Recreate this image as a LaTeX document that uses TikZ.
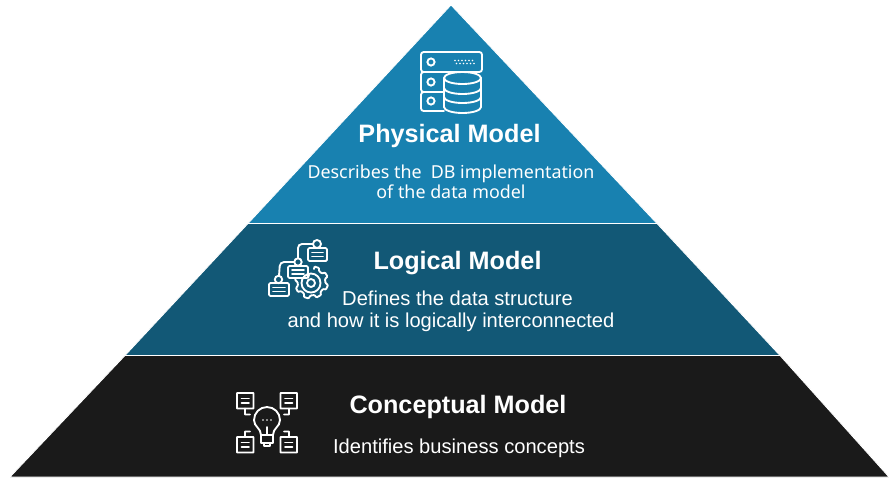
\documentclass[tikz,border=0pt]{standalone}
\usepackage{fontspec}
\setmainfont{Liberation Sans}
\newfontfamily\descfont{Noto Sans}
\definecolor{physc}{HTML}{1881B0}
\definecolor{logc}{HTML}{125876}
\definecolor{conc}{HTML}{1A1A1A}
\tikzset{
 layer/.style={draw=white,line width=0.6pt},
 titletext/.style={text=white,font=\fontsize{18.9}{22}\selectfont\bfseries,inner sep=0pt},
 bodytext/.style={text=white,font=\fontsize{15.1}{16.5}\selectfont,align=center,inner sep=0pt},
 icon/.style={draw=white,line width=1.4pt,rounded corners=1pt,line cap=round},
}
\begin{document}
\begin{tikzpicture}[x=0.75pt,y=-0.75pt]
\useasboundingbox (0,0) rectangle (889,480);
\fill[white] (0,0) rectangle (889,480);
% layers
\path[layer,fill=physc] (451,5) -- (657,223.5) -- (248,223.5) -- cycle;
\path[layer,fill=logc] (248,223.5) -- (657,223.5) -- (780,355.5) -- (125,355.5) -- cycle;
\path[layer,fill=conc] (125,355.5) -- (780,355.5) -- (889,477) -- (10,477) -- cycle;
% texts
\node[titletext] (t1) at (449.5,136) {Physical Model};
\node[bodytext,font=\descfont\fontsize{13.4}{15}\selectfont] (d1) at (451,181.5) {Describes the\ \ DB implementation\\of the data model};
\node[titletext] (t2) at (457.5,263.5) {Logical Model};
\node[bodytext] (d2) at (451,311) {\hspace*{9.75pt}Defines the data structure\\and how it is logically interconnected};
\node[titletext] (t3) at (458,406.5) {Conceptual Model};
\node[bodytext] (d3) at (459,448) {Identifies business concepts};
% server icon
\begin{scope}[icon]
 \draw[rounded corners=2pt] (421,52) rectangle (482,72);
 \draw[rounded corners=2pt] (444,92) -- (421,92) -- (421,72) -- (444,72);
 \draw[rounded corners=2pt] (444,92) -- (421,92) -- (421,111) -- (444,111);
 \draw (431,62) circle (3.6);
 \draw (431,82) circle (3.6);
 \draw (431,101) circle (3.6);
 \foreach \x in {455,458.5,...,473}{\fill[white] (\x,60.5) circle (0.8);\fill[white] (\x+1.5,63.5) circle (0.8);}
 \draw[rounded corners=0pt] (444,78) arc[start angle=180,end angle=-180,x radius=18.5,y radius=6];
 \draw[rounded corners=0pt] (444,78) -- (444,107) arc[start angle=180,end angle=0,x radius=18.5,y radius=6] -- (481,78);
 \draw[rounded corners=0pt] (444,88) arc[start angle=180,end angle=0,x radius=18.5,y radius=6];
 \draw[rounded corners=0pt] (444,97) arc[start angle=180,end angle=0,x radius=18.5,y radius=6];
\end{scope}
% logical icon
\begin{scope}[icon]
 \draw (308,248) rectangle (327,261);
 \draw (312,252.5) -- (323,252.5) (312,256.5) -- (323,256.5);
 \draw (317,244) circle (4);
 \draw (288,266) rectangle (308,278);
 \draw (292,270) -- (304,270) (292,274) -- (304,274);
 \draw (298,262) circle (3.7);
 \draw (269,283) rectangle (289,296);
 \draw (273,287.5) -- (285,287.5) (273,291.5) -- (285,291.5);
 \draw (278.5,279.5) circle (3.7);
 \draw[rounded corners=3pt] (313,244) -- (298,244) -- (298,258.3);
 \draw[rounded corners=3pt] (294.3,262) -- (280,262) -- (279,275.8);
 \draw[rounded corners=0pt] (311,283) circle (4);
 \draw[rounded corners=0pt] (311,283) circle (9.5);
 \draw[rounded corners=0.6pt] (308,278) -- (309,275) (314,269) -- (314.5,266.5) -- (319,268) -- (319,271) -- (322,273.5) -- (325,272.5) -- (327.5,276.5) -- (325,279) -- (325.5,283) -- (328,285) -- (326,289.5) -- (323,289) -- (320.5,292) -- (321,295) -- (316.5,297.5) -- (314.5,295) -- (310.5,295.5) -- (308.5,298.5) -- (304,297) -- (304,293.5) -- (301,291) -- (298,292) -- (296,288) -- (298,285.5) -- (297.5,282) -- (295,280) -- (296,278);
\end{scope}
% conceptual icon
\begin{scope}[icon,rounded corners=0.3pt]
 \foreach \a/\b in {237/393,280.5/393,237/437,280.5/437}{
  \draw (\a,\b) rectangle (\a+16.5,\b+15.5);
  \draw (\a+4.5,\b+5.5) -- (\a+12,\b+5.5) (\a+4.5,\b+10) -- (\a+12,\b+10);
 }
 \draw (245,408.5) -- (245,414.5) -- (250,414.5);
 \draw (289,408.5) -- (289,414.5) -- (284,414.5);
 \draw (245,437) -- (245,431.5) -- (250,431.5);
 \draw (289,437) -- (289,431.5) -- (284,431.5);
 \draw[rounded corners=0pt] (261,435) .. controls (261,428) and (254,427) .. (254,420) arc[start angle=180,end angle=360,radius=13] .. controls (280,427) and (273,428) .. (273,435);
 \draw (261,435) rectangle (273,443);
 \draw (264,443) -- (264,446) -- (270,446) -- (270,443);
 \draw (267,435) -- (267,427);
 \foreach \x in {263,267,271}\fill[white] (\x,420) circle (0.8);
\end{scope}
\end{tikzpicture}
\end{document}
